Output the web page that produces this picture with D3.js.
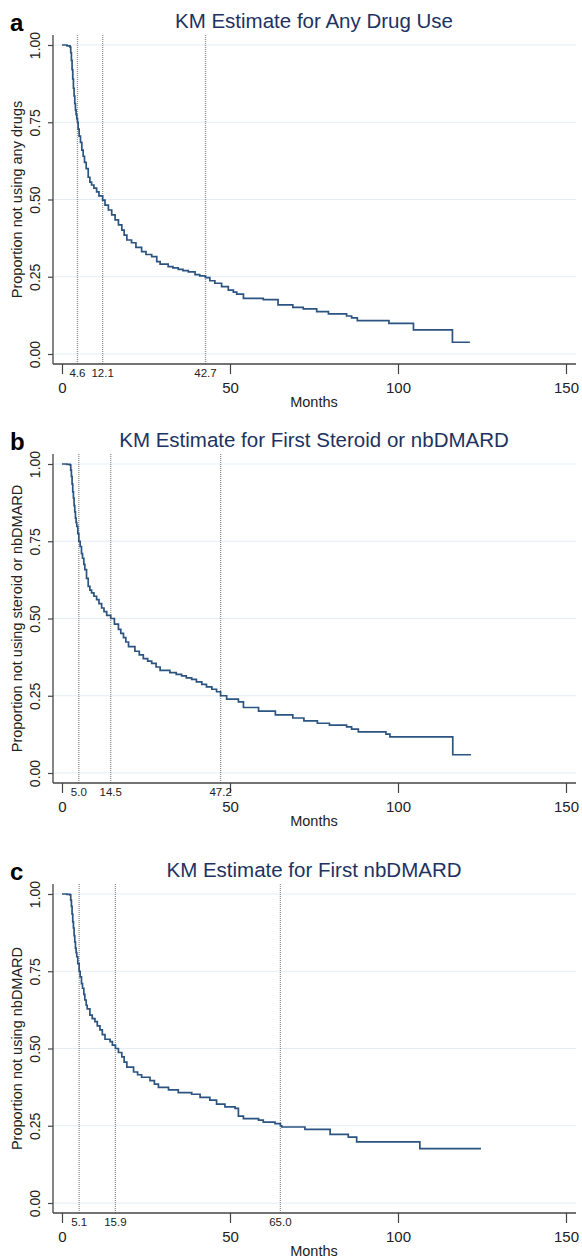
<!DOCTYPE html>
<html>
<head>
<meta charset="utf-8">
<script src="https://cdn.jsdelivr.net/npm/d3@7"></script>
<style>
  body { margin: 0; background: #ffffff; }
  text { font-family: "Liberation Sans", Arial, Helvetica, sans-serif; }
</style>
</head>
<body>
<script>
var panelLetters = ["a", "b", "c"];
var titles = [
  "KM Estimate for Any Drug Use",
  "KM Estimate for First Steroid or nbDMARD",
  "KM Estimate for First nbDMARD"
];
var yLabels = [
  "Proportion not using any drugs",
  "Proportion not using steroid or nbDMARD",
  "Proportion not using nbDMARD"
];
var xTicks = [0, 50, 100, 150];
var yTicks = [0, 0.25, 0.5, 0.75, 1];
var quantileMonths = [[4.6, 12.1, 42.7], [5.0, 14.5, 47.2], [5.1, 15.9, 65.0]];

// [months, proportion not using]
var kmAnyDrug = [[0,1],[1.5,0.997],[2.4,0.993],[2.6,0.975],[2.8,0.95],[3.0,0.92],[3.2,0.89],[3.4,0.86],
  [3.6,0.835],[3.8,0.81],[4.0,0.79],[4.2,0.775],[4.4,0.762],[4.6,0.75],[4.8,0.728],[5.1,0.705],[5.5,0.685],
  [5.9,0.66],[6.3,0.64],[6.7,0.62],[7.2,0.60],[7.8,0.572],[8.3,0.556],[8.8,0.547],[9.5,0.537],[10.3,0.525],
  [11.0,0.512],[12.1,0.498],[12.8,0.482],[13.8,0.466],[14.8,0.45],[15.8,0.434],[16.8,0.418],[17.8,0.401],
  [18.5,0.385],[19.3,0.369],[20.7,0.360],[22.0,0.345],[23.7,0.331],[25.0,0.322],[26.7,0.315],[28.2,0.299],
  [29.2,0.291],[31.6,0.283],[33.0,0.279],[34.6,0.274],[36.0,0.270],[37.6,0.266],[39.6,0.257],[41.0,0.253],
  [42.7,0.247],[44.0,0.237],[45.5,0.229],[47.5,0.218],[49.5,0.207],[51.0,0.200],[52.0,0.194],[54.0,0.180],
  [59.9,0.176],[64.3,0.159],[68.7,0.151],[71.8,0.146],[75.8,0.137],[79.3,0.130],[84.7,0.123],[86.2,0.117],
  [87.9,0.108],[97.3,0.099],[104.6,0.078],[116.2,0.038],[121.4,0.038]];
var kmSteroid = [[0,1],[1.5,0.999],[2.4,0.997],[2.6,0.98],[2.8,0.96],[3.0,0.935],[3.2,0.91],[3.4,0.89],
  [3.6,0.865],[3.8,0.845],[4.0,0.825],[4.2,0.81],[4.4,0.798],[4.7,0.775],[5.0,0.75],[5.4,0.733],[5.8,0.71],
  [6.1,0.695],[6.5,0.675],[6.8,0.658],[7.3,0.63],[7.8,0.604],[8.3,0.592],[8.8,0.583],[9.5,0.572],[10.3,0.561],
  [11.0,0.548],[11.8,0.534],[12.5,0.522],[13.3,0.510],[14.5,0.500],[15.6,0.482],[16.8,0.465],[17.5,0.452],
  [18.3,0.438],[19.0,0.424],[19.8,0.409],[21.7,0.394],[23.0,0.382],[24.2,0.370],[25.5,0.362],[26.7,0.355],
  [28.0,0.343],[29.2,0.332],[32.1,0.325],[34.0,0.319],[35.6,0.314],[37.0,0.308],[38.6,0.303],[40.0,0.295],
  [41.6,0.287],[43.0,0.279],[44.6,0.271],[46.0,0.263],[47.2,0.250],[49.0,0.239],[52.5,0.230],[54.0,0.212],
  [58.5,0.200],[63.5,0.188],[68.7,0.178],[72.0,0.169],[76.0,0.161],[79.6,0.155],[84.7,0.149],[86.2,0.142],
  [88.2,0.133],[96.4,0.126],[97.6,0.117],[116.3,0.059],[121.7,0.059]];
var kmNbdmard = [[0,1],[1.5,0.999],[2.4,0.997],[2.6,0.98],[2.8,0.96],[3.0,0.935],[3.2,0.91],[3.4,0.89],
  [3.6,0.865],[3.8,0.845],[4.0,0.825],[4.2,0.81],[4.4,0.797],[4.7,0.775],[5.1,0.75],[5.4,0.732],[5.8,0.71],
  [6.1,0.695],[6.5,0.675],[6.8,0.657],[7.2,0.64],[7.5,0.628],[8.3,0.608],[9.0,0.597],[9.8,0.587],[10.5,0.573],
  [11.3,0.560],[12.0,0.545],[12.8,0.530],[14.3,0.522],[15.0,0.511],[15.9,0.500],[16.8,0.487],[17.8,0.473],
  [18.5,0.456],[19.3,0.440],[21.3,0.424],[22.5,0.415],[23.7,0.407],[26.2,0.396],[27.5,0.385],[28.7,0.374],
  [31.7,0.366],[34.6,0.357],[38.6,0.352],[41.1,0.342],[44.0,0.333],[46.0,0.320],[48.5,0.311],[51.5,0.306],
  [52.5,0.281],[54.0,0.273],[58.5,0.268],[59.9,0.262],[63.4,0.257],[65.0,0.250],[65.4,0.246],[72.3,0.238],
  [79.8,0.222],[85.2,0.213],[87.7,0.198],[106.5,0.176],[124.7,0.176]];
var curves = [kmAnyDrug, kmSteroid, kmNbdmard];

var width = 582;
var height = 1259;
var svg = d3.select("body")
  .append("svg")
  .attr("width", width)
  .attr("height", height);

// layout of one panel, relative to where y = 1.00 sits
var panelTops = [45, 464, 894];
var axisX = 53;
var plotH = 309;
var x = d3.scaleLinear().domain([0, 150]).range([9, 513]);
var y = d3.scaleLinear().domain([0, 1]).range([plotH, 0]);
var fmt1 = d3.format(".1f");
var fmt2 = d3.format(".2f");

for (var i = 0; i < curves.length; i ++) {
  var g = svg.append("g")
    .attr("transform", "translate(" + axisX + " " + panelTops[i] + ")");

  // light grid
  g.selectAll("line.grid")
    .data(yTicks)
    .enter()
    .append("line")
    .attr("class", "grid")
    .attr("x1", 0)
    .attr("x2", 523)
    .attr("y1", function (d) { return y(d); })
    .attr("y2", function (d) { return y(d); })
    .attr("stroke", "#e4edf5")
    .attr("stroke-width", 1.2);

  // quantile reference lines
  g.selectAll("line.q")
    .data(quantileMonths[i])
    .enter()
    .append("line")
    .attr("class", "q")
    .attr("x1", function (d) { return x(d); })
    .attr("x2", function (d) { return x(d); })
    .attr("y1", -10)
    .attr("y2", plotH + 10)
    .attr("stroke", "#8f8f8f")
    .attr("stroke-width", 1.3)
    .attr("stroke-dasharray", "1,1");

  // KM curve
  var line = d3.line()
    .curve(d3.curveStepAfter)
    .x(function (d) { return x(d[0]); })
    .y(function (d) { return y(d[1]); });
  g.append("path")
    .datum(curves[i])
    .attr("d", line)
    .attr("fill", "none")
    .attr("stroke", "#2b5480")
    .attr("stroke-width", 1.7);

  // y axis
  var yAxis = d3.axisLeft(y)
    .tickValues(yTicks)
    .tickSize(5)
    .tickPadding(3)
    .tickFormat(fmt2);
  var ya = g.append("g").call(yAxis);
  ya.select(".domain").remove();
  ya.append("line")
    .attr("x1", 0).attr("x2", 0)
    .attr("y1", -10).attr("y2", plotH + 10)
    .attr("stroke", "#444").attr("stroke-width", 1.3);
  ya.selectAll(".tick line").attr("stroke", "#444").attr("stroke-width", 1.2);
  ya.selectAll(".tick text")
    .attr("x", null).attr("dy", null)
    .attr("transform", "translate(-13.5 0) rotate(-90)")
    .attr("text-anchor", "middle")
    .attr("font-size", 14)
    .attr("fill", "#222");

  // x axis
  var xAxis = d3.axisBottom(x)
    .tickValues(xTicks)
    .tickSize(10)
    .tickPadding(5)
    .tickFormat(d3.format("d"));
  var xa = g.append("g")
    .attr("transform", "translate(0 " + (plotH + 10) + ")")
    .call(xAxis);
  xa.select(".domain").remove();
  xa.append("line")
    .attr("x1", 0).attr("x2", 523)
    .attr("y1", 0).attr("y2", 0)
    .attr("stroke", "#444").attr("stroke-width", 1.3);
  xa.selectAll(".tick line").attr("stroke", "#444").attr("stroke-width", 1.2);
  xa.selectAll(".tick text")
    .attr("y", 29).attr("dy", null)
    .attr("font-size", 15)
    .attr("fill", "#222");

  // quantile labels under the axis
  xa.selectAll("text.q")
    .data(quantileMonths[i])
    .enter()
    .append("text")
    .attr("class", "q")
    .attr("x", function (d) { return x(d); })
    .attr("y", 12.5)
    .attr("text-anchor", "middle")
    .attr("font-size", 11.5)
    .attr("fill", "#222")
    .text(function (d) { return fmt1(d); });

  g.append("text")
    .attr("x", 261)
    .attr("y", plotH + 53)
    .attr("text-anchor", "middle")
    .attr("font-size", 14.5)
    .attr("fill", "#222")
    .text("Months");

  g.append("text")
    .attr("transform", "translate(-31 " + (plotH / 2) + ") rotate(-90)")
    .attr("text-anchor", "middle")
    .attr("font-size", 14.5)
    .attr("fill", "#222")
    .text(yLabels[i]);

  g.append("text")
    .attr("x", 261)
    .attr("y", -17)
    .attr("text-anchor", "middle")
    .attr("font-size", 20.5)
    .attr("fill", "#1d3262")
    .text(titles[i]);

  g.append("text")
    .attr("x", -43)
    .attr("y", -14)
    .attr("font-size", 24)
    .attr("font-weight", "bold")
    .attr("fill", "#000")
    .text(panelLetters[i]);
}
</script>
</body>
</html>
